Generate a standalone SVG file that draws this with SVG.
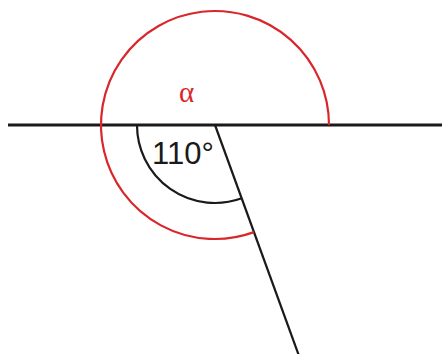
<svg xmlns="http://www.w3.org/2000/svg" width="442" height="354" viewBox="0 0 442 354">
<style>
.red{fill:none;stroke:#d9262b;stroke-width:2.2}
.blk{fill:none;stroke:#1a1a1a;stroke-width:2.2}
.lbl{font-size:31px;fill:#1a1a1a}
.alpha{font-size:29px;fill:#d9262b}
</style>
<rect width="442" height="354" fill="#fff"/>
<g id="connectors">
<line x1="8" y1="125" x2="442" y2="125" stroke="#1a1a1a" stroke-width="3"/>
<line x1="215" y1="125" x2="300.5" y2="360" class="blk"/>
</g>
<g id="arc-alpha">
<path class="red" d="M329,125 A114,114 0 1 0 253.99,232.13"/>
<text class="alpha" font-family="Liberation Serif, serif" x="186.5" y="101.5" text-anchor="middle">α</text>
</g>
<g id="arc-110">
<path class="blk" d="M137,125 A78,78 0 0 0 241.68,198.30"/>
<text class="lbl" font-family="Liberation Sans, sans-serif" x="152" y="163.5">110°</text>
</g>
</svg>
